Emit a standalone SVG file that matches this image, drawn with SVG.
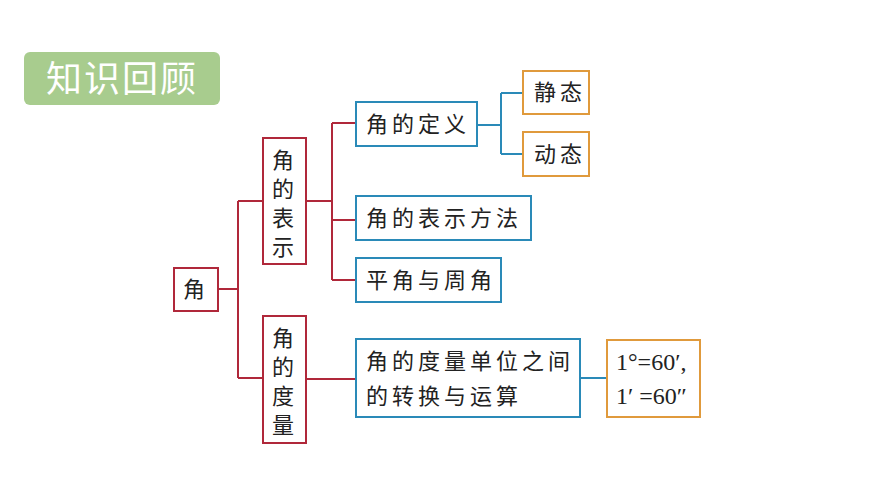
<svg xmlns="http://www.w3.org/2000/svg" width="870" height="489" viewBox="0 0 870 489">
<style>
.r{fill:#fff;stroke:#b0283a;stroke-width:2}
.b{fill:#fff;stroke:#2a8ab8;stroke-width:2}
.o{fill:#fff;stroke:#e09a3c;stroke-width:2}
.t{font-family:"Noto Sans CJK SC",sans-serif;font-size:22px;fill:#222;letter-spacing:4px}
.f{font-family:"Liberation Serif",serif;font-size:24px;fill:#222}
.cr{fill:none;stroke:#b0283a;stroke-width:2}
.cb{fill:none;stroke:#2a8ab8;stroke-width:2}
</style>
<rect width="870" height="489" fill="#fff"/>
<g id="title"><rect x="24" y="52" width="196" height="53" rx="6" fill="#a8cc8e"/><text x="122" y="92" text-anchor="middle" font-family="Noto Sans CJK SC,sans-serif" font-size="36" fill="#fff" letter-spacing="2">知识回顾</text></g>
<g id="connectors">
<path class="cr" d="M218 289H238M238 201V378M238 201H263M238 378H263M306 201H332M332 123V280M332 123H356M332 220H356M332 280H356M306 379H356"/>
<path class="cb" d="M477 125H501M501 93V154M501 93H523M501 154H523M580 378H607"/>
</g>
<g id="n-jiao"><rect class="r" x="174" y="268" width="44" height="43"/><text class="t" x="196" y="297" text-anchor="middle">角</text></g>
<g id="n-biaoshi"><rect class="r" x="263" y="138" width="43" height="126"/><text class="t" x="285" y="168" text-anchor="middle" letter-spacing="0"><tspan x="285">角</tspan><tspan x="285" dy="29">的</tspan><tspan x="285" dy="29">表</tspan><tspan x="285" dy="29">示</tspan></text></g>
<g id="n-duliang"><rect class="r" x="263" y="316" width="43" height="127"/><text class="t" x="285" y="346" text-anchor="middle" letter-spacing="0"><tspan x="285">角</tspan><tspan x="285" dy="29">的</tspan><tspan x="285" dy="29">度</tspan><tspan x="285" dy="29">量</tspan></text></g>
<g id="n-dingyi"><rect class="b" x="356" y="102" width="121" height="44"/><text class="t" x="366" y="132">角的定义</text></g>
<g id="n-jing"><rect class="o" x="523" y="71" width="66" height="43"/><text class="t" x="534" y="100">静态</text></g>
<g id="n-dong"><rect class="o" x="523" y="132" width="66" height="44"/><text class="t" x="534" y="162">动态</text></g>
<g id="n-fangfa"><rect class="b" x="356" y="196" width="175" height="44"/><text class="t" x="366" y="226">角的表示方法</text></g>
<g id="n-ping"><rect class="b" x="356" y="258" width="145" height="44"/><text class="t" x="366" y="288">平角与周角</text></g>
<g id="n-zhuan"><rect class="b" x="356" y="339" width="224" height="78"/><text class="t" x="366" y="369">角的度量单位之间</text><text class="t" x="366" y="404">的转换与运算</text></g>
<g id="n-formula"><rect class="o" x="607" y="340" width="93" height="77"/><text class="f" x="616" y="370">1°=60′,</text><text class="f" x="616" y="404">1′ =60″</text></g>
</svg>
